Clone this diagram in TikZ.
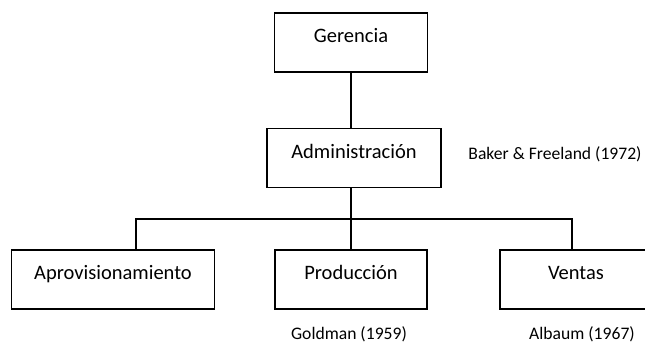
\documentclass[tikz,border=0pt]{standalone}
\usepackage{fontspec}
\setmainfont{Carlito}

\tikzset{
	unit/.style={draw, rectangle, line width=1.5pt, minimum height=59pt, text height=0pt, text depth=0pt, inner sep=0pt, font=\fontsize{20.5}{24}\selectfont},
	cite/.style={text height=0pt, text depth=0pt, inner sep=0pt, font=\fontsize{17.6}{21}\selectfont},
	link/.style={line width=1.5pt}
}

\begin{document}
\begin{tikzpicture}[x=1pt, y=-1pt]

	\useasboundingbox (0,0) rectangle (645,345);

	% Gerencia
	\draw (351,42.7) node[unit, minimum width=153pt] (ger) {Gerencia} ;
	% Administracion
	\draw (354,158) node[unit, minimum width=174pt] (adm) {Administración} ;
	% Departamentos
	\draw (113,279.5) node[unit, minimum width=203pt] (apro) {Aprovisionamiento} ;
	\draw (351,279.5) node[unit, minimum width=152pt] (prod) {Producción} ;
	\draw (576,279.5) node[unit, minimum width=152pt] (vent) {Ventas} ;

	% bus
	\coordinate (busL) at (136,219);
	\coordinate (busM) at (351,219);
	\coordinate (busR) at (572,219);

	\draw[link] (ger.south) -- (ger.south |- adm.north);
	\draw[link] (busM |- adm.south) -- (prod.north);
	\draw[link] (busL |- apro.north) -- (busL) -- (busR) -- (busR |- vent.north);

	% Autores
	\draw (555,159.5) node[cite] (baker) {Baker \& Freeland (1972)};
	\draw (349,339) node[cite] (goldman) {Goldman (1959)};
	\draw (582,339) node[cite] (albaum) {Albaum (1967)};

\end{tikzpicture}
\end{document}
